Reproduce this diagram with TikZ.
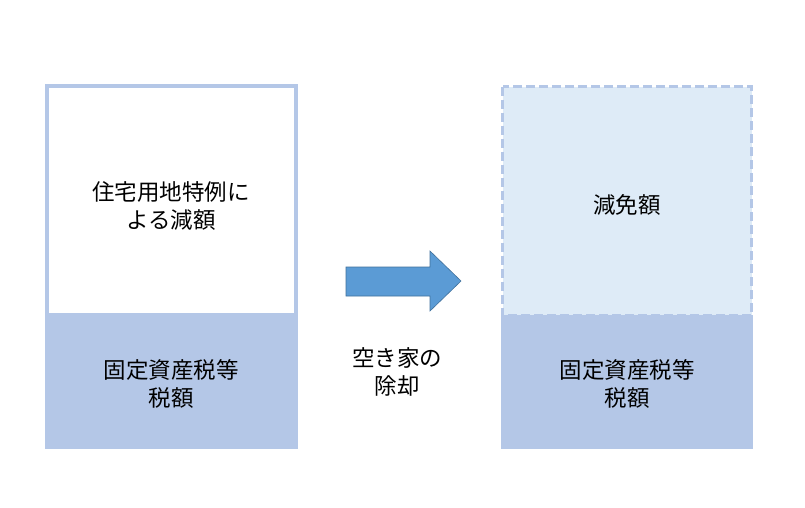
\documentclass[tikz,border=0pt]{standalone}
\usepackage{fontspec}
\newfontfamily\jp{Noto Sans CJK JP}
\usetikzlibrary{shapes.arrows}
\definecolor{edgeblue}{HTML}{B4C7E7}
\definecolor{paleblue}{HTML}{DEEBF7}
\definecolor{arrowblue}{HTML}{5B9BD5}
\definecolor{arrowedge}{HTML}{41719C}
\tikzset{
  lbl/.style={font=\jp\fontsize{22.5}{28}\selectfont, align=center, text=black},
  taxbox/.style={fill=edgeblue, draw=none},
}
\begin{document}
\begin{tikzpicture}[x=1pt,y=-1pt]
\useasboundingbox[fill=white] (0,0) rectangle (805,507);
% left
\fill[taxbox] (45,315) rectangle (298,449);
\draw[edgeblue, line width=4pt, fill=white] (47,86) rectangle (296,315);
\node[lbl] (ltop) at (171,206) {住宅用地特例に\\よる減額};
\node[lbl] (lbot) at (171,384) {固定資産税等\\税額};
% right
\fill[taxbox] (501,315) rectangle (753,449);
\draw[edgeblue, line width=3pt, fill=paleblue, dash pattern=on 9pt off 4pt] (502.5,86.5) rectangle (751.5,315);
\node[lbl] (rtop) at (627,205) {減免額};
\node[lbl] (rbot) at (627,384) {固定資産税等\\税額};
% arrow
\draw[arrowedge, line width=0.6pt, fill=arrowblue]
  (346,267) -- (430,267) -- (430,251) -- (461,281) -- (430,311) -- (430,296) -- (346,296) -- cycle;
\node[lbl] (mid) at (397,372) {空き家の\\除却};
\end{tikzpicture}
\end{document}
